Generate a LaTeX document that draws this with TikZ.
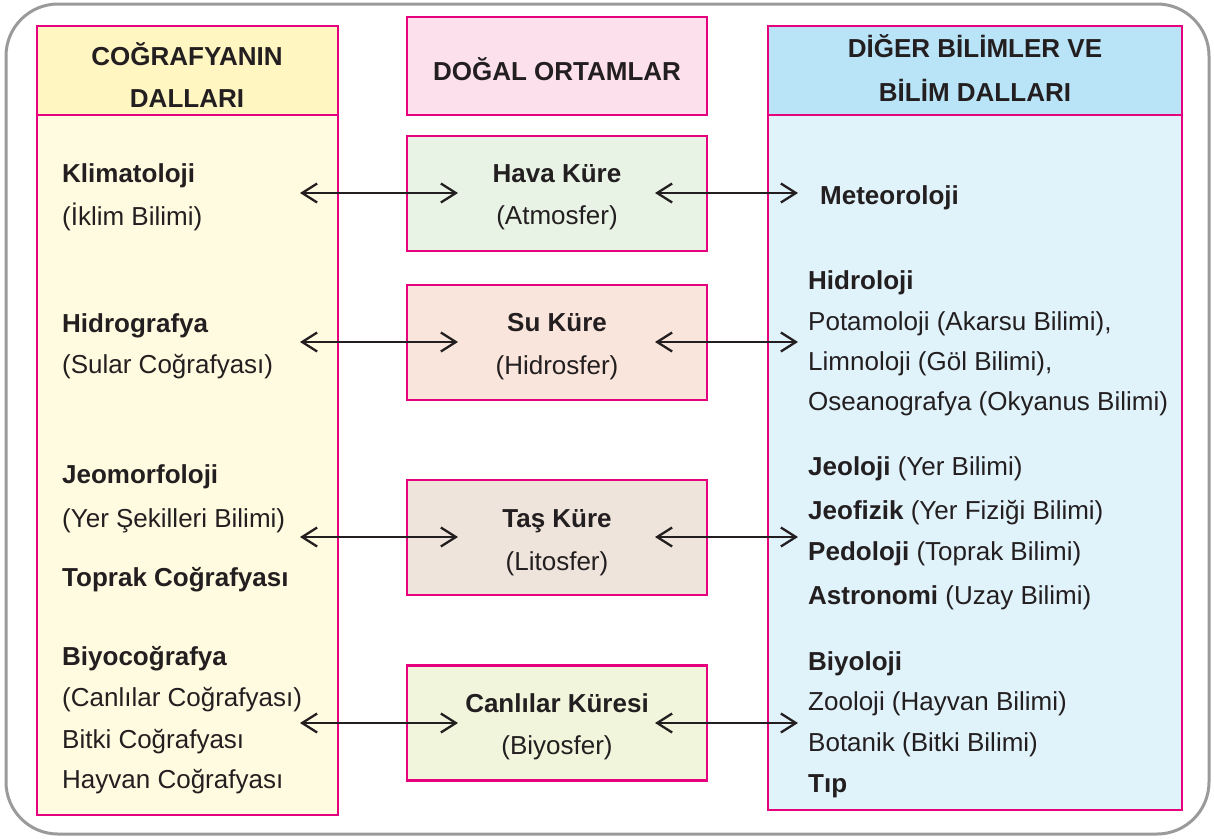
\documentclass[tikz,border=0pt]{standalone}
\usepackage{fontspec}
\setmainfont{Liberation Sans}
\usetikzlibrary{arrows.meta}
\definecolor{mag}{HTML}{E6007E}
\definecolor{frame}{HTML}{9A9A9C}
\definecolor{lhead}{HTML}{FFF6C2}
\definecolor{lbody}{HTML}{FFFBE0}
\definecolor{mhead}{HTML}{FCE1EC}
\definecolor{hava}{HTML}{E8F3E6}
\definecolor{su}{HTML}{F9E5DB}
\definecolor{tas}{HTML}{EEE4DB}
\definecolor{canli}{HTML}{F1F5DC}
\definecolor{rhead}{HTML}{B9E4F8}
\definecolor{rbody}{HTML}{E0F2FA}
\definecolor{ink}{HTML}{231F20}
\begin{document}
\begin{tikzpicture}[x=1pt,y=-1pt,
  panel/.style={draw=mag,line width=2.5pt},
  txt/.style={anchor=base west,inner sep=0pt,text=ink,font=\fontsize{26}{42}\selectfont},
  btxt/.style={txt,font=\fontsize{26}{42}\selectfont\bfseries},
  ctr/.style={anchor=base,inner sep=0pt,text=ink,font=\fontsize{26}{42}\selectfont\bfseries},
  ctrn/.style={anchor=base,inner sep=0pt,text=ink,font=\fontsize{26}{42}\selectfont},
  link/.style={line width=2.3pt,draw=ink,{Straight Barb[length=15pt,width=19pt,line width=2.3pt]}-{Straight Barb[length=15pt,width=19pt,line width=2.3pt]}}
]
\useasboundingbox (0,0) rectangle (1214,838);
% outer frame
\draw[frame,line width=3pt,rounded corners=52pt] (6,4) rectangle (1209,834);
% left column
\fill[lbody] (37,115) rectangle (338,815);
\fill[lhead] (37,26) rectangle (338,115);
\draw[panel] (37,26) rectangle (338,815);
\draw[panel] (37,115) -- (338,115);
% right column
\fill[rbody] (768,115) rectangle (1182,810);
\fill[rhead] (768,26) rectangle (1182,115);
\draw[panel] (768,26) rectangle (1182,810);
\draw[panel] (768,115) -- (1182,115);
% middle boxes
\node[panel,fill=mhead,minimum width=300pt,minimum height=98pt,inner sep=0pt] (mh) at (557,66) {};
\node[panel,fill=hava,minimum width=300pt,minimum height=115pt,inner sep=0pt] (b1) at (557,193.5) {};
\node[panel,fill=su,minimum width=300pt,minimum height=115pt,inner sep=0pt] (b2) at (557,342.5) {};
\node[panel,fill=tas,minimum width=300pt,minimum height=115pt,inner sep=0pt] (b3) at (557,537.5) {};
\node[panel,fill=canli,minimum width=300pt,minimum height=115pt,inner sep=0pt] (b4) at (557,723) {};
% headers
\node[ctr] (lh1) at (187,65) {COĞRAFYANIN};
\node[ctr] (lh2) at (187,107) {DALLARI};
\node[ctr] (mht) at (557,80) {DOĞAL ORTAMLAR};
\node[ctr] (rh1) at (975,57) {DİĞER BİLİMLER VE};
\node[ctr] (rh2) at (975,101) {BİLİM DALLARI};
% middle texts
\node[ctr] (t1a) at (557,182) {Hava Küre};
\node[ctrn] (t1b) at (557,224) {(Atmosfer)};
\node[ctr] (t2a) at (557,331) {Su Küre};
\node[ctrn] (t2b) at (557,374) {(Hidrosfer)};
\node[ctr] (t3a) at (557,527) {Taş Küre};
\node[ctrn] (t3b) at (557,570) {(Litosfer)};
\node[ctr] (t4a) at (557,712) {Canlılar Küresi};
\node[ctrn] (t4b) at (557,754) {(Biyosfer)};
% left texts
\node[btxt] (l1) at (62,182) {Klimatoloji};
\node[txt] (l2) at (62,225) {(İklim Bilimi)};
\node[btxt] (l3) at (62,332) {Hidrografya};
\node[txt] (l4) at (62,373) {(Sular Coğrafyası)};
\node[btxt] (l5) at (62,483) {Jeomorfoloji};
\node[txt] (l6) at (62,527) {(Yer Şekilleri Bilimi)};
\node[btxt] (l7) at (62,586) {Toprak Coğrafyası};
\node[btxt] (l8) at (62,665) {Biyocoğrafya};
\node[txt] (l9) at (62,706) {(Canlılar Coğrafyası)};
\node[txt] (l10) at (62,748) {Bitki Coğrafyası};
\node[txt] (l11) at (62,788) {Hayvan Coğrafyası};
% right texts
\node[btxt] (r1) at (820,204) {Meteoroloji};
\node[btxt] (r2) at (808,289) {Hidroloji};
\node[txt] (r3) at (808,330) {Potamoloji (Akarsu Bilimi),};
\node[txt] (r4) at (808,370) {Limnoloji (Göl Bilimi),};
\node[txt] (r5) at (808,410) {Oseanografya (Okyanus Bilimi)};
\node[txt] (r6) at (808,475) {\textbf{Jeoloji} (Yer Bilimi)};
\node[txt] (r7) at (808,519) {\textbf{Jeofizik} (Yer Fiziği Bilimi)};
\node[txt] (r8) at (808,560) {\textbf{Pedoloji} (Toprak Bilimi)};
\node[txt] (r9) at (808,604) {\textbf{Astronomi} (Uzay Bilimi)};
\node[btxt] (r10) at (808,670) {Biyoloji};
\node[txt] (r11) at (808,710) {Zooloji (Hayvan Bilimi)};
\node[txt] (r12) at (808,751) {Botanik (Bitki Bilimi)};
\node[btxt] (r13) at (808,792) {Tıp};
% arrow end points
\coordinate (a1l) at (300,193); \coordinate (a1m) at (458,193);
\coordinate (a1n) at (655,193); \coordinate (a1r) at (798,193);
\coordinate (a2l) at (300,342); \coordinate (a2m) at (458,342);
\coordinate (a2n) at (655,342); \coordinate (a2r) at (798,342);
\coordinate (a3l) at (300,537); \coordinate (a3m) at (458,537);
\coordinate (a3n) at (655,537); \coordinate (a3r) at (798,537);
\coordinate (a4l) at (300,723); \coordinate (a4m) at (458,723);
\coordinate (a4n) at (655,723); \coordinate (a4r) at (798,723);
\draw[link] (a1l) -- (a1m); \draw[link] (a1n) -- (a1r);
\draw[link] (a2l) -- (a2m); \draw[link] (a2n) -- (a2r);
\draw[link] (a3l) -- (a3m); \draw[link] (a3n) -- (a3r);
\draw[link] (a4l) -- (a4m); \draw[link] (a4n) -- (a4r);
\end{tikzpicture}
\end{document}
